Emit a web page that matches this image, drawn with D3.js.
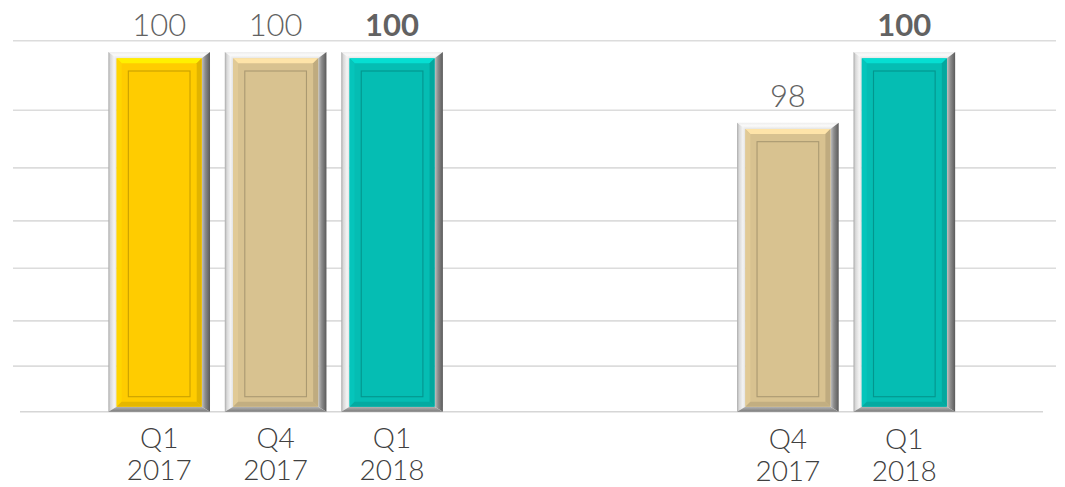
<!DOCTYPE html>
<html><head><meta charset="utf-8">
<script src="https://cdn.jsdelivr.net/npm/d3@7/dist/d3.min.js"></script>
<style>html,body{margin:0;padding:0;background:#fff;}svg{display:block;}</style>
</head><body>
<svg id="c" width="1065" height="487"></svg>
<script>
// ---- data ----
const groups = ["Group 1", "Group 2"];
const series = ["Q1 2017", "Q4 2017", "Q1 2018"];
const seriesLines = [["Q1", "2017"], ["Q4", "2017"], ["Q1", "2018"]];
const group1Values = [100, 100, 100];
const group2Values = [null, 98, 100];
const gridValues = [89.82, 91.11, 92.39, 93.88, 95.22, 96.72, 98.35, 100.32];
const seriesColors = ["#FFCC00", "#D8C290", "#05BDB3"];
const boldSeries = [false, false, true];

const allValues = [group1Values, group2Values];
const svg = d3.select("#c");
const defs = svg.append("defs");

const x0 = d3.scaleBand().domain(groups).range([19.5, 1044]);
const x1 = d3.scaleBand().domain(series).range([0, x0.bandwidth()]).paddingInner(0.127).paddingOuter(0.763);
const y = d3.scaleLinear().domain([89.82, 100.32]).range([411.7, 40.7]);

// gridlines
svg.append("g").selectAll("line").data(gridValues.slice(1)).join("line")
  .attr("x1", 13).attr("x2", 1056)
  .attr("y1", d => y(d)).attr("y2", d => y(d))
  .attr("stroke", "#dcdcdc").attr("stroke-width", 1.6);
svg.append("line").attr("x1", 20).attr("x2", 1043)
  .attr("y1", y(gridValues[0])).attr("y2", y(gridValues[0]))
  .attr("stroke", "#d6d6d6").attr("stroke-width", 1.6);

// gradients
function lin(id, stops, vertical) {
  const g = defs.append("linearGradient").attr("id", id)
    .attr("x1", 0).attr("y1", 0).attr("x2", vertical ? 0 : 1).attr("y2", vertical ? 1 : 0);
  stops.forEach(s => g.append("stop").attr("offset", s[0]).attr("stop-color", s[1]));
}
lin("gLeft", [[0, "#a9a9a9"], [0.25, "#d8d8d8"], [0.7, "#f4f4f4"], [1, "#e2e2e2"]], false);
lin("gRight", [[0, "#c4c4c4"], [0.4, "#8e8e8e"], [1, "#5a5a5a"]], false);
lin("gTop", [[0, "#ededed"], [0.5, "#fafafa"], [1, "#e6e6e6"]], true);
lin("gBot", [[0, "#b5b5b5"], [1, "#7a7a7a"]], true);

const fw = 8.3, ft = 6.3, fb = 5, bw = 5;

const bars = [];
groups.forEach((g, gi) => series.forEach((s, si) => {
  const v = allValues[gi][si];
  if (v != null) bars.push({ g, gi, s, si, v });
}));

const gb = svg.append("g");
bars.forEach(d => {
  const x = x0(d.g) + x1(d.s), w = x1.bandwidth();
  const top = y(d.v), bot = y.range()[0];
  const col = d3.color(seriesColors[d.si]);
  const b = gb.append("g");
  const poly = pts => pts.map(p => p.join(",")).join(" ");
  // frame
  b.append("polygon").attr("points", poly([[x, top], [x + w, top], [x + w - fw, top + ft], [x + fw, top + ft]])).attr("fill", "url(#gTop)");
  b.append("polygon").attr("points", poly([[x, top], [x + fw, top + ft], [x + fw, bot - fb], [x, bot]])).attr("fill", "url(#gLeft)");
  b.append("polygon").attr("points", poly([[x + w, top], [x + w, bot], [x + w - fw, bot - fb], [x + w - fw, top + ft]])).attr("fill", "url(#gRight)");
  b.append("polygon").attr("points", poly([[x, bot], [x + fw, bot - fb], [x + w - fw, bot - fb], [x + w, bot]])).attr("fill", "url(#gBot)");
  // face
  const fx = x + fw, fy = top + ft, fwid = w - 2 * fw, fh = bot - fb - fy;
  b.append("rect").attr("x", fx).attr("y", fy).attr("width", fwid).attr("height", fh).attr("fill", col.formatHex());
  // face bevel
  b.append("polygon").attr("points", poly([[fx, fy], [fx + fwid, fy], [fx + fwid - bw, fy + bw], [fx + bw, fy + bw]])).attr("fill", col.brighter(0.45).formatHex());
  b.append("polygon").attr("points", poly([[fx, fy], [fx + bw, fy + bw], [fx + bw, fy + fh - bw], [fx, fy + fh]])).attr("fill", col.brighter(0.12).formatHex());
  b.append("polygon").attr("points", poly([[fx + fwid, fy], [fx + fwid, fy + fh], [fx + fwid - bw, fy + fh - bw], [fx + fwid - bw, fy + bw]])).attr("fill", col.darker(0.35).formatHex());
  b.append("polygon").attr("points", poly([[fx, fy + fh], [fx + bw, fy + fh - bw], [fx + fwid - bw, fy + fh - bw], [fx + fwid, fy + fh]])).attr("fill", col.darker(0.3).formatHex());
  // inner outline
  b.append("rect").attr("x", x + 20).attr("y", top + 19).attr("width", w - 40).attr("height", bot - 15 - (top + 19))
    .attr("fill", "none").attr("stroke", col.darker(0.8).formatHex()).attr("stroke-width", 1.1).attr("stroke-opacity", 0.85);
  // value label
  svg.append("text").attr("x", x + w / 2).attr("y", top - 16)
    .attr("text-anchor", "middle").attr("font-family", "Lato, 'Open Sans', sans-serif")
    .attr("font-size", 31).attr("font-weight", boldSeries[d.si] ? 700 : 300)
    .attr("fill", "#626262").text(d.v);
  // category labels
  const t = svg.append("text").attr("text-anchor", "middle").attr("font-family", "Lato, 'Open Sans', sans-serif")
    .attr("font-size", 28).attr("font-weight", 300).attr("fill", "#404040");
  const off = d.gi * 1;
  seriesLines[d.si].forEach((ln, li) => {
    t.append("tspan").attr("x", x + w / 2).attr("y", 447.5 + off + li * 32.5).text(ln);
  });
});
</script>
</body></html>
